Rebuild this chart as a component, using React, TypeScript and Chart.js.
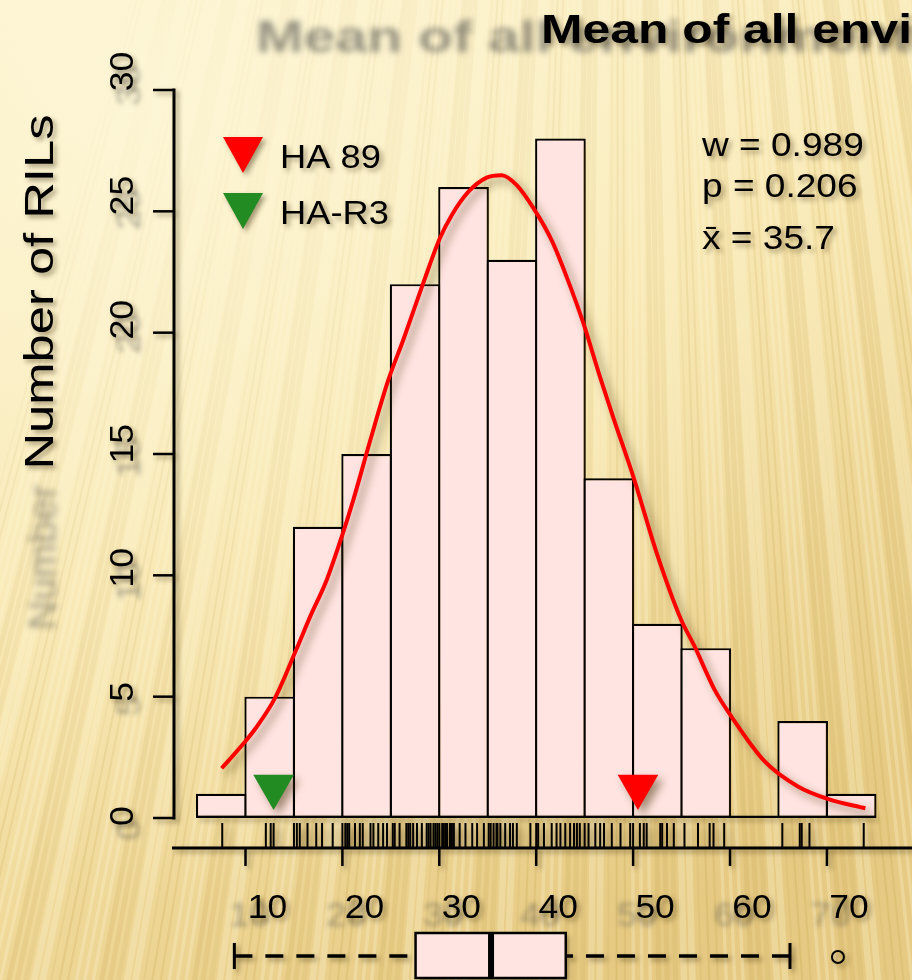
import React, { useEffect, useRef } from "react";
import { Chart, registerables } from "chart.js";

Chart.register(...registerables);

// ---------------- data ----------------
const BIN_WIDTH = 5;
const BIN_LOWER = [5, 10, 15, 20, 25, 30, 35, 40, 45, 50, 55, 60, 65, 70];
const BIN_COUNTS = [1, 5, 12, 15, 22, 26, 23, 28, 14, 8, 7, 0, 4, 1];

const CURVE_X = [7.54, 9.95, 11.16, 13.04, 15.22, 16.66, 18.38, 19.93, 21.12, 22.9, 24.74, 26.28, 28.35, 30.07, 31.28, 32.99, 34.89, 36.44, 37.99, 39.7, 41.6, 43.15, 44.86, 46.58, 48.0, 50.07, 52.5, 54.92, 56.31, 58.39, 60.11, 63.58, 67.05, 70.16, 73.97];
const CURVE_Y = [2.05, 3.14, 3.76, 4.94, 6.92, 8.29, 9.81, 11.59, 13.1, 15.6, 18.05, 19.7, 22.05, 23.9, 24.84, 25.8, 26.39, 26.49, 26.08, 25.14, 23.8, 22.29, 20.4, 18.18, 16.45, 14.01, 10.84, 8.2, 7.1, 5.3, 4.2, 2.33, 1.29, 0.78, 0.4];

const RUG_VALUES = [7.6, 12.1, 12.6, 12.9, 15.0, 15.3, 15.6, 16.4, 17.3, 17.9, 19.0, 20.0, 20.3, 20.5, 20.7, 21.3, 21.8, 22.1, 22.9, 23.2, 23.7, 24.2, 24.6, 25.2, 25.4, 25.9, 26.6, 26.8, 27.0, 27.3, 27.7, 28.2, 28.7, 28.9, 29.1, 29.4, 29.6, 29.8, 30.0, 30.3, 30.4, 30.6, 30.8, 31.1, 31.3, 31.5, 32.1, 32.7, 33.4, 33.9, 34.6, 35.1, 35.3, 35.6, 35.9, 36.0, 36.3, 36.8, 37.3, 37.6, 38.0, 39.4, 40.0, 40.2, 40.8, 41.6, 42.1, 42.5, 43.0, 43.5, 43.9, 44.2, 44.5, 45.0, 45.4, 46.1, 46.6, 47.0, 47.8, 48.7, 49.7, 50.0, 50.7, 51.1, 51.4, 52.8, 53.0, 53.5, 54.2, 55.3, 56.7, 57.9, 58.3, 59.4, 65.4, 67.2, 67.4, 68.2, 73.8];

const BOX_FIVE = [8.85, 27.55, 35.34, 43.05, 66.19];
const BOX_OUTLIERS = [71.14];

const PARENT_NAMES = ["HA 89", "HA-R3"];
const PARENT_VALUES = [50.5, 12.9];
const PARENT_COLORS = ["#FF0000", "#228B22"];
const MARKER_LEVEL = 1.3;

const X_TICKS = [10, 20, 30, 40, 50, 60, 70];
const Y_TICKS = [0, 5, 10, 15, 20, 25, 30];

const STAT_LINES = ["w = 0.989", "p = 0.206", "x\u0304 = 35.7"];
const TITLE = "Mean of all environments";
const Y_TITLE = "Number of RILs";

// ---------------- helpers ----------------
const FAMILY = '"Liberation Sans", Arial, Helvetica, sans-serif';

type TOpts = {
  size: number;
  bold?: boolean;
  sx?: number;
  align?: CanvasTextAlign;
  rot?: number;
  color?: string;
  fitWidth?: number;
  fitText?: string;
};

function drawText(ctx: CanvasRenderingContext2D, s: string, x: number, y: number, o: TOpts) {
  ctx.save();
  ctx.font = `${o.bold ? "bold " : ""}${o.size}px ${FAMILY}`;
  let sx = o.sx ?? 1;
  if (o.fitWidth) {
    const w = ctx.measureText(o.fitText ?? s).width;
    if (w > 0) sx = o.fitWidth / w;
  }
  ctx.translate(x, y);
  if (o.rot) ctx.rotate(o.rot);
  ctx.scale(sx, 1);
  ctx.textAlign = o.align ?? "left";
  ctx.textBaseline = "alphabetic";
  ctx.fillStyle = o.color ?? "#000";
  ctx.fillText(s, 0, 0);
  ctx.restore();
}

function setShadow(ctx: CanvasRenderingContext2D, blur: number, off: number, color: string) {
  ctx.shadowColor = color;
  ctx.shadowBlur = blur;
  ctx.shadowOffsetX = off;
  ctx.shadowOffsetY = off;
}

function line(ctx: CanvasRenderingContext2D, x1: number, y1: number, x2: number, y2: number) {
  ctx.beginPath();
  ctx.moveTo(x1, y1);
  ctx.lineTo(x2, y2);
  ctx.stroke();
}

function paintBackground(ctx: CanvasRenderingContext2D, w: number, h: number) {
  const g = ctx.createLinearGradient(0, 0, w * 0.6, h);
  g.addColorStop(0, "#FCF3D0");
  g.addColorStop(0.5, "#F7E4AA");
  g.addColorStop(1, "#E6CA83");
  ctx.fillStyle = g;
  ctx.fillRect(0, 0, w, h);
  const ax = 620;
  const ay = -1800;
  for (let i = 0; i < 150; i++) {
    const xb = -140 + i * 8.5;
    const k = (i * 37) % 11;
    const dark = k % 2 === 0;
    ctx.beginPath();
    ctx.moveTo(ax, ay);
    ctx.lineTo(xb, h + 20);
    ctx.lineWidth = 2 + (k % 4) * 1.5;
    ctx.strokeStyle = dark ? `rgba(180,140,50,${0.09 + 0.02 * (k % 5)})` : "rgba(255,250,225,0.25)";
    ctx.stroke();
  }
  const r = ctx.createRadialGradient(140, 90, 20, 140, 90, 820);
  r.addColorStop(0, "rgba(253,246,214,0.9)");
  r.addColorStop(0.55, "rgba(252,243,206,0.4)");
  r.addColorStop(1, "rgba(252,243,206,0)");
  ctx.fillStyle = r;
  ctx.fillRect(0, 0, w, h);
}

const X_LABEL_SHIFT = 22;
const yLabelShift = (v: number) => -2 - 0.55 * v;

const decorPlugin = {
  id: "decor",
  beforeDraw(chart: any) {
    const ctx: CanvasRenderingContext2D = chart.ctx;
    const xs = chart.scales.x;
    const ys = chart.scales.y;
    ctx.save();
    paintBackground(ctx, chart.width, chart.height);
    ctx.filter = "blur(3px)";
    drawText(ctx, TITLE, 256, 52, { size: 44, bold: true, sx: 1.3, color: "rgba(70,70,70,0.55)" });
    drawText(ctx, Y_TITLE.split(" ")[0], 56, 630, { size: 39, sx: 1.05, rot: -Math.PI / 2, color: "rgba(70,70,70,0.5)" });
    ctx.filter = "blur(2.5px)";
    for (const v of X_TICKS) {
      drawText(ctx, String(v), xs.getPixelForValue(v) + X_LABEL_SHIFT - 18, 926, { size: 34, sx: 1.06, align: "center", color: "rgba(70,70,70,0.45)" });
    }
    for (const v of Y_TICKS) {
      drawText(ctx, String(v), 140, ys.getPixelForValue(v) + yLabelShift(v) + 14, { size: 33, sx: 1.1, align: "center", rot: -Math.PI / 2, color: "rgba(70,70,70,0.45)" });
    }
    ctx.filter = "none";
    ctx.restore();
  },
  beforeDatasetsDraw(chart: any) {
    const ctx: CanvasRenderingContext2D = chart.ctx;
    ctx.save();
    setShadow(ctx, 9, 5, "rgba(70,50,5,0.5)");
  },
  afterDatasetsDraw(chart: any) {
    const ctx: CanvasRenderingContext2D = chart.ctx;
    ctx.restore();
    const xs = chart.scales.x;
    const ys = chart.scales.y;
    const area = chart.chartArea;
    ctx.save();
    setShadow(ctx, 5, 3, "rgba(60,45,10,0.45)");
    ctx.strokeStyle = "#000";
    ctx.lineCap = "butt";

    // baseline under histogram (covers the empty bin)
    ctx.lineWidth = 2.2;
    const y0 = ys.getPixelForValue(0);
    line(ctx, xs.getPixelForValue(BIN_LOWER[0]), y0 - 1.1, xs.getPixelForValue(BIN_LOWER[BIN_LOWER.length - 1] + BIN_WIDTH), y0 - 1.1);

    // y axis
    const ax = area.left;
    ctx.lineWidth = 3;
    line(ctx, ax, ys.getPixelForValue(Y_TICKS[0]) + 1.5, ax, ys.getPixelForValue(Y_TICKS[Y_TICKS.length - 1]) - 1.5);
    ctx.lineWidth = 2.5;
    for (const v of Y_TICKS) {
      const py = ys.getPixelForValue(v);
      line(ctx, ax - 21, py, ax, py);
    }
    for (const v of Y_TICKS) {
      drawText(ctx, String(v), 133, ys.getPixelForValue(v) + yLabelShift(v), { size: 33, sx: 1.08, align: "center", rot: -Math.PI / 2 });
    }

    // x axis
    const bx = area.bottom;
    ctx.lineWidth = 3;
    line(ctx, area.left - 2, bx, area.right, bx);
    ctx.lineWidth = 2.5;
    for (const v of X_TICKS) {
      const px = xs.getPixelForValue(v);
      line(ctx, px, bx, px, bx + 18);
    }
    for (const v of X_TICKS) {
      drawText(ctx, String(v), xs.getPixelForValue(v) + X_LABEL_SHIFT, 918, { size: 34, sx: 1.04, align: "center" });
    }

    // box plot
    const [lo, q1, med, q3, hi] = BOX_FIVE.map((v) => xs.getPixelForValue(v));
    const bTop = 933;
    const bBot = 978;
    const bMid = 956;
    ctx.lineWidth = 3.5;
    ctx.setLineDash([18, 13]);
    line(ctx, lo, bMid, q1, bMid);
    line(ctx, hi, bMid, q3, bMid);
    ctx.setLineDash([]);
    ctx.lineWidth = 3;
    line(ctx, lo, 943, lo, 969);
    line(ctx, hi, 943, hi, 969);
    ctx.fillStyle = "#FFE4E1";
    ctx.fillRect(q1, bTop, q3 - q1, bBot - bTop);
    ctx.save();
    ctx.shadowColor = "transparent";
    ctx.lineWidth = 2.5;
    ctx.strokeRect(q1, bTop, q3 - q1, bBot - bTop);
    ctx.lineWidth = 6;
    line(ctx, med, bTop, med, bBot);
    ctx.restore();
    ctx.lineWidth = 2;
    for (const o of BOX_OUTLIERS) {
      ctx.beginPath();
      ctx.arc(xs.getPixelForValue(o), bMid + 1, 6, 0, Math.PI * 2);
      ctx.stroke();
    }

    // legend
    const legendTops = [137, 193];
    PARENT_NAMES.forEach((name, i) => {
      const t = legendTops[i];
      ctx.fillStyle = PARENT_COLORS[i];
      ctx.beginPath();
      ctx.moveTo(223, t);
      ctx.lineTo(263, t);
      ctx.lineTo(243, t + 36);
      ctx.closePath();
      ctx.fill();
      drawText(ctx, name, 280, t + 31, { size: 33, sx: 1.1 });
    });

    // statistics
    const statBase = [156, 197, 249];
    STAT_LINES.forEach((s, i) => drawText(ctx, s, 702, statBase[i], { size: 34, sx: 1.09 }));

    // titles
    drawText(ctx, TITLE, 541, 43, { size: 41, bold: true, fitWidth: 371, fitText: TITLE.slice(0, 16) });
    drawText(ctx, Y_TITLE, 53, 292, { size: 40, rot: -Math.PI / 2, align: "center", fitWidth: 355 });
    ctx.restore();
  },
};

export default function App() {
  const ref = useRef<HTMLCanvasElement>(null);
  useEffect(() => {
    document.body.style.margin = "0";
    const canvas = ref.current;
    if (!canvas) return;
    const binMid = BIN_LOWER.map((l) => l + BIN_WIDTH / 2);
    const chart = new Chart(canvas, {
      type: "bar",
      data: {
        datasets: [
          {
            type: "scatter",
            label: "HA 89",
            data: [{ x: PARENT_VALUES[0], y: MARKER_LEVEL }],
            backgroundColor: PARENT_COLORS[0],
            borderWidth: 0,
            pointStyle: "triangle",
            rotation: 180,
            pointRadius: 23.5,
            order: 1,
          } as any,
          {
            type: "scatter",
            label: "HA-R3",
            data: [{ x: PARENT_VALUES[1], y: MARKER_LEVEL }],
            backgroundColor: PARENT_COLORS[1],
            borderWidth: 0,
            pointStyle: "triangle",
            rotation: 180,
            pointRadius: 23.5,
            order: 1,
          } as any,
          {
            type: "scatter",
            label: "rug",
            data: RUG_VALUES.map((v) => ({ x: v, y: -0.7 })),
            borderColor: "#000",
            backgroundColor: "#000",
            borderWidth: 2,
            pointStyle: "line",
            rotation: 90,
            pointRadius: 12,
            order: 2,
          } as any,
          {
            type: "line",
            label: "normal",
            data: CURVE_X.map((x, i) => ({ x, y: CURVE_Y[i] })),
            borderColor: "#FF0000",
            borderWidth: 4,
            pointRadius: 0,
            fill: false,
            cubicInterpolationMode: "monotone",
            order: 3,
          } as any,
          {
            type: "bar",
            label: "count",
            data: binMid.map((x, i) => ({ x, y: BIN_COUNTS[i] })),
            backgroundColor: "#FFE4E1",
            borderColor: "#000",
            borderWidth: 2.2,
            borderSkipped: false,
            barPercentage: 1.045,
            categoryPercentage: 1,
            order: 4,
          } as any,
        ],
      },
      options: {
        responsive: false,
        devicePixelRatio: 1,
        animation: false,
        events: [],
        layout: { autoPadding: false, padding: { left: 174, top: 90, right: 0, bottom: 132 } },
        scales: {
          x: { type: "linear", offset: false, min: 2.6213, max: 78.782, display: false },
          y: { type: "linear", min: -1.236, max: 30, display: false },
        },
        plugins: {
          legend: { display: false },
          tooltip: { enabled: false },
          title: { display: false },
        },
      },
      plugins: [decorPlugin],
    });
    return () => chart.destroy();
  }, []);
  return (
    <div style={{ position: "absolute", left: 0, top: 0, width: 912, height: 980, overflow: "hidden" }}>
      <canvas ref={ref} width={912} height={980} style={{ width: 912, height: 980, display: "block" }} />
    </div>
  );
}
